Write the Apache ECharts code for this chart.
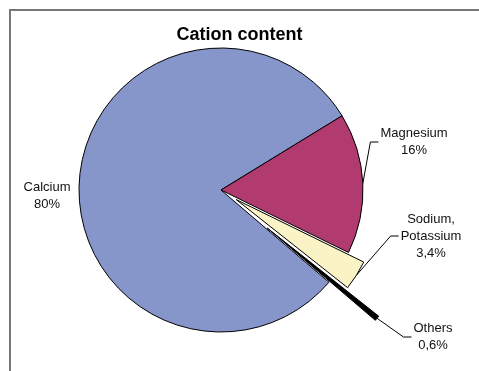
<!DOCTYPE html>
<html>
<head>
<meta charset="utf-8">
<script src="https://cdn.jsdelivr.net/npm/echarts@6/dist/echarts.min.js"></script>
<style>
  html, body { margin: 0; padding: 0; background: #fff; }
  #chart { width: 479px; height: 371px; }
</style>
</head>
<body>
<div id="chart"></div>
<script>
// Cation shares (percent of total)
const categories = ['Calcium', 'Magnesium', 'Sodium,\nPotassium', 'Others'];
const shares = [80, 16, 3.4, 0.6];

// Layout and style
const CX = 221, CY = 190, R = 142;
const START_ANGLE = 319.5;               // where the Calcium slice begins
const colors = ['#8696CB', '#B13A6F', '#FAF3C6', '#000000'];
const explode = [0, 0, 18, 60];          // pull-out distance of each slice, px
const groups = [[0, 1], [2], [3]];       // slices sharing one pie centre
const labelAt = [[47, 196], [414, 142], [431, 236], [433, 337]];
const FONT = "'Liberation Sans', Arial, sans-serif";

const total = shares.reduce((a, b) => a + b, 0);

// mid angle of slice i in degrees (counter-clockwise from 3 o'clock)
function midAngle(i) {
  let before = 0;
  for (let k = 0; k < i; k++) before += shares[k];
  return START_ANGLE - (before + shares[i] / 2) / total * 360;
}

function fmt(v) {
  return String(v).replace('.', ',') + '%';
}

const series = groups.map(function (group) {
  const lead = group[0];
  const d = explode[lead];
  const a = midAngle(lead) * Math.PI / 180;
  const center = [CX + d * Math.cos(a), CY - d * Math.sin(a)];
  return {
    type: 'pie',
    center: center,
    radius: R,
    startAngle: START_ANGLE,
    clockwise: true,
    avoidLabelOverlap: false,
    silent: true,
    animation: false,
    emphasis: { disabled: true },
    label: {
      position: 'outside',
      fontFamily: FONT,
      fontSize: 13,
      lineHeight: 17,
      color: '#111',
      formatter: function (p) { return p.name + '\n' + fmt(p.value); }
    },
    labelLine: { lineStyle: { color: '#000', width: 1 } },
    labelLayout: function (p) {
      const i = p.dataIndex;
      const x = labelAt[i][0], y = labelAt[i][1];
      const out = { x: x, y: y, align: 'center', verticalAlign: 'middle' };
      if (i > 0 && p.labelLinePoints) {
        const left = x - p.labelRect.width / 2;
        out.labelLinePoints = [p.labelLinePoints[0], [left - 10, y], [left - 2, y]];
      }
      return out;
    },
    data: shares.map(function (v, i) {
      const visible = group.indexOf(i) >= 0;
      return {
        name: categories[i],
        value: v,
        itemStyle: visible
          ? { color: colors[i], borderColor: '#000', borderWidth: 1 }
          : { color: 'rgba(0,0,0,0)', borderWidth: 0 },
        label: { show: visible },
        labelLine: { show: visible && i !== 0 }
      };
    })
  };
});

const chart = echarts.init(document.getElementById('chart'), null, { renderer: 'canvas' });
chart.setOption({
  backgroundColor: '#fff',
  animation: false,
  title: {
    text: 'Cation content',
    left: 'center',
    top: 21,
    textStyle: { fontFamily: FONT, fontSize: 18, fontWeight: 'bold', color: '#000' }
  },
  graphic: [{
    type: 'rect',
    z: -10,
    silent: true,
    shape: { x: 10, y: 10, width: 600, height: 500 },
    style: { fill: 'none', stroke: '#777', lineWidth: 2 }
  }],
  series: series
});
</script>
</body>
</html>
